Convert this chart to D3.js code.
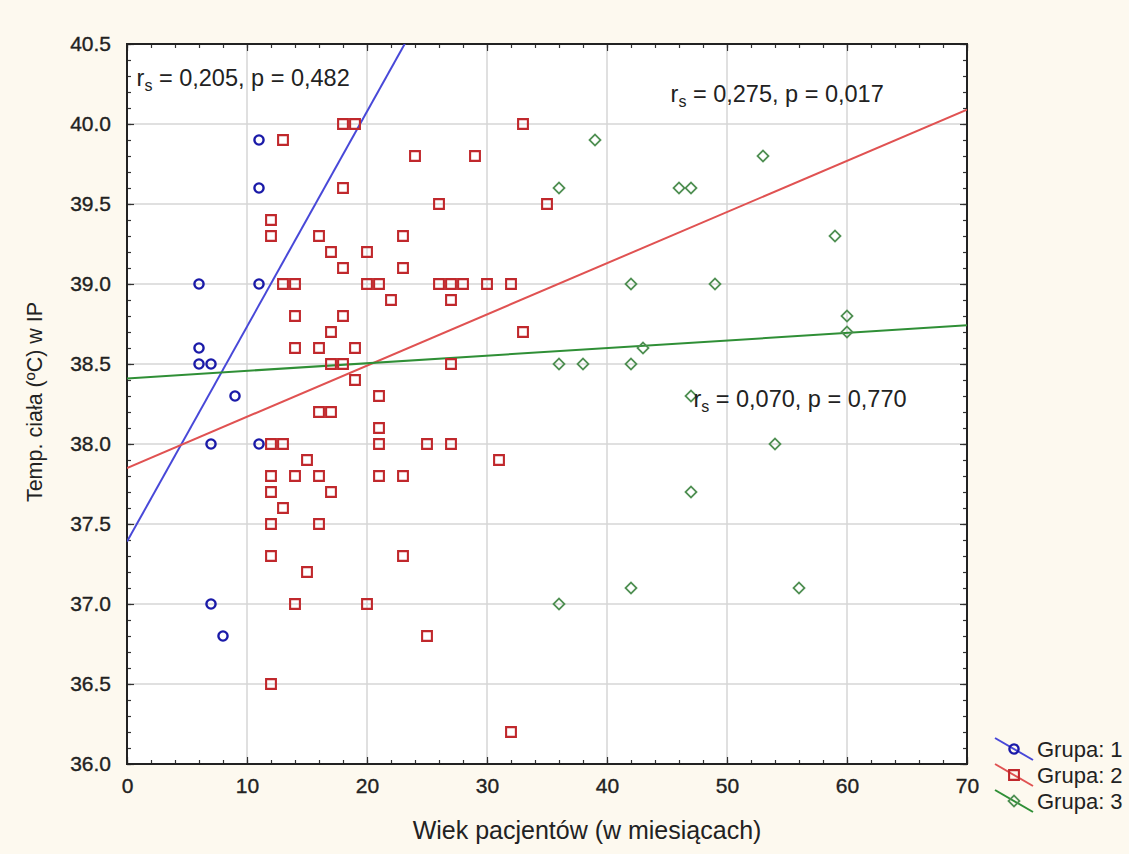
<!DOCTYPE html>
<html>
<head>
<meta charset="utf-8">
<script src="https://cdn.jsdelivr.net/npm/d3@7"></script>
<style>
  html, body { margin: 0; padding: 0; background: #fdf9ef; }
  svg { display: block; }
  text { font-family: "Liberation Sans", Arial, sans-serif; fill: #222; }
</style>
</head>
<body>
<svg id="chart" width="1129" height="854"></svg>
<script>
// Age (months) vs. body temperature for three patient groups
const group1Age  = [6, 6, 6, 7, 11, 11, 11, 9, 7, 11, 7, 8];
const group1Temp = [39.0, 38.6, 38.5, 38.5, 39.9, 39.6, 39.0, 38.3, 38.0, 38.0, 37.0, 36.8];

const group2Age  = [18, 19, 13, 24, 18, 12, 12, 16, 17, 20, 23, 18, 23, 13, 14, 20, 21, 22, 14, 18,
                    17, 14, 16, 19, 17, 18, 19, 21, 16, 17, 21, 12, 13, 21, 15, 12, 14, 16, 21, 23,
                    12, 17, 13, 12, 16, 12, 23, 15, 14, 20, 12,
                    33, 29, 26, 35, 26, 27, 28, 30, 32, 27, 33, 27, 25, 27, 31, 25, 32];
const group2Temp = [40.0, 40.0, 39.9, 39.8, 39.6, 39.4, 39.3, 39.3, 39.2, 39.2, 39.3, 39.1, 39.1, 39.0, 39.0, 39.0, 39.0, 38.9, 38.8, 38.8,
                    38.7, 38.6, 38.6, 38.6, 38.5, 38.5, 38.4, 38.3, 38.2, 38.2, 38.1, 38.0, 38.0, 38.0, 37.9, 37.8, 37.8, 37.8, 37.8, 37.8,
                    37.7, 37.7, 37.6, 37.5, 37.5, 37.3, 37.3, 37.2, 37.0, 37.0, 36.5,
                    40.0, 39.8, 39.5, 39.5, 39.0, 39.0, 39.0, 39.0, 39.0, 38.9, 38.7, 38.5, 38.0, 38.0, 37.9, 36.8, 36.2];

const group3Age  = [39, 36, 46, 47, 53, 59, 42, 49, 60, 60, 43, 36, 38, 42, 47, 54, 47, 56, 36, 42];
const group3Temp = [39.9, 39.6, 39.6, 39.6, 39.8, 39.3, 39.0, 39.0, 38.8, 38.7, 38.6, 38.5, 38.5, 38.5, 38.3, 38.0, 37.7, 37.1, 37.0, 37.1];

// Fitted lines: temperature = intercept + slope * age
const fitIntercept = [37.39, 37.85, 38.41];
const fitSlope     = [0.1344, 0.032, 0.00474];

// Spearman annotations
const corrR = ["0,205", "0,275", "0,070"];
const corrP = ["0,482", "0,017", "0,770"];
const corrAt = [[0.8, 40.24], [45.3, 40.14], [47.2, 38.23]];

const groupNames = ["Grupa: 1", "Grupa: 2", "Grupa: 3"];
const xTicks = [0, 10, 20, 30, 40, 50, 60, 70];
const yTicks = [36.0, 36.5, 37.0, 37.5, 38.0, 38.5, 39.0, 39.5, 40.0, 40.5];

const markerStroke = ["#1a1aa8", "#c0282c", "#4f8f52"];
const lineStroke   = ["#4848d8", "#e05252", "#2f8f36"];

const svg = d3.select("#chart");
const L = 127, R = 967, T = 44, B = 764;

const x = d3.scaleLinear().domain([0, 70]).range([L, R]);
const y = d3.scaleLinear().domain([36, 40.5]).range([B, T]);

// plot background
svg.append("rect").attr("x", L).attr("y", T).attr("width", R - L).attr("height", B - T).attr("fill", "#ffffff");

// grid
const grid = svg.append("g");
grid.selectAll(".gx").data(xTicks.slice(1, -1)).join("line")
  .attr("x1", d => x(d)).attr("x2", d => x(d)).attr("y1", T).attr("y2", B)
  .attr("stroke", "#d6d6d6").attr("stroke-width", 1.5);
grid.selectAll(".gy").data(yTicks.slice(1, -1)).join("line")
  .attr("y1", d => y(d)).attr("y2", d => y(d)).attr("x1", L).attr("x2", R)
  .attr("stroke", "#d6d6d6").attr("stroke-width", 1.5);

// axes with inward ticks on all four sides
const fmtY = d3.format(".1f");
function styleAxis(g) {
  g.select(".domain").remove();
  g.selectAll("line").attr("stroke", "#333").attr("stroke-width", 1.2);
}
function styleLabels(g) {
  g.select(".domain").remove();
  g.selectAll("text").attr("font-size", 21)
    .style("font-family", "'Liberation Sans', Arial, sans-serif")
    .attr("fill", "#222").attr("stroke", "#222").attr("stroke-width", 0.35);
}
const xMinor = d3.range(0, 70.001, 2);
const yMinor = d3.range(36, 40.501, 0.1);

svg.append("g").attr("transform", `translate(0,${B})`)
  .call(d3.axisTop(x).tickValues(xMinor).tickSize(4).tickFormat(""))
  .call(styleAxis);
svg.append("g").attr("transform", `translate(0,${B})`)
  .call(d3.axisBottom(x).tickValues(xTicks).tickSize(0).tickPadding(14).tickFormat(d3.format("d")))
  .call(styleLabels)
  .call(g => g.selectAll("text").attr("dy", "0.71em"));
svg.append("g").attr("transform", `translate(0,${B})`)
  .call(d3.axisTop(x).tickValues(xTicks).tickSize(7).tickFormat(""))
  .call(styleAxis);
svg.append("g").attr("transform", `translate(0,${T})`)
  .call(d3.axisBottom(x).tickValues(xMinor).tickSize(4).tickFormat(""))
  .call(styleAxis);
svg.append("g").attr("transform", `translate(0,${T})`)
  .call(d3.axisBottom(x).tickValues(xTicks).tickSize(7).tickFormat(""))
  .call(styleAxis);

svg.append("g").attr("transform", `translate(${L},0)`)
  .call(d3.axisRight(y).tickValues(yMinor).tickSize(4).tickFormat(""))
  .call(styleAxis);
svg.append("g").attr("transform", `translate(${L},0)`)
  .call(d3.axisRight(y).tickValues(yTicks).tickSize(7).tickFormat(""))
  .call(styleAxis);
svg.append("g").attr("transform", `translate(${L},0)`)
  .call(d3.axisLeft(y).tickValues(yTicks).tickSize(0).tickPadding(16).tickFormat(fmtY))
  .call(styleLabels);
svg.append("g").attr("transform", `translate(${R},0)`)
  .call(d3.axisLeft(y).tickValues(yMinor).tickSize(4).tickFormat(""))
  .call(styleAxis);
svg.append("g").attr("transform", `translate(${R},0)`)
  .call(d3.axisLeft(y).tickValues(yTicks).tickSize(7).tickFormat(""))
  .call(styleAxis);

// frame
svg.append("rect").attr("x", L).attr("y", T).attr("width", R - L).attr("height", B - T)
  .attr("fill", "none").attr("stroke", "#222").attr("stroke-width", 2);

// clip for fitted lines
svg.append("clipPath").attr("id", "plotClip")
  .append("rect").attr("x", L).attr("y", T).attr("width", R - L).attr("height", B - T);

const fitLine = d3.line().x(d => x(d[0])).y(d => y(d[1]));
const fits = svg.append("g").attr("clip-path", "url(#plotClip)");
fitIntercept.forEach((a, i) => {
  const b = fitSlope[i];
  fits.append("path")
    .attr("d", fitLine([[0, a], [70, a + b * 70]]))
    .attr("fill", "none").attr("stroke", lineStroke[i]).attr("stroke-width", 2);
});

// markers
const circleSym = d3.symbol().type(d3.symbolCircle).size(66);
const squareSym = d3.symbol().type(d3.symbolSquare).size(96);
const diamondSym = d3.symbol().type(d3.symbolSquare).size(60);

const groups = [
  { age: group1Age, temp: group1Temp, sym: circleSym, rot: 0, sw: 2.4 },
  { age: group2Age, temp: group2Temp, sym: squareSym, rot: 0, sw: 2.1 },
  { age: group3Age, temp: group3Temp, sym: diamondSym, rot: 45, sw: 1.8 }
];
const pts = svg.append("g");
groups.forEach((g, i) => {
  pts.append("g").selectAll("path").data(d3.range(g.age.length)).join("path")
    .attr("d", g.sym())
    .attr("transform", k => `translate(${x(g.age[k])},${y(g.temp[k])}) rotate(${g.rot})`)
    .attr("fill", "none").attr("stroke", markerStroke[i]).attr("stroke-width", g.sw);
});

// correlation labels
corrAt.forEach((p, i) => {
  const t = svg.append("text")
    .attr("x", x(p[0])).attr("y", y(p[1]))
    .attr("font-size", 23.5).attr("fill", "#222");
  t.append("tspan").text("r");
  t.append("tspan").text("s").attr("font-size", 16).attr("dy", 5);
  t.append("tspan").text(` = ${corrR[i]}, p = ${corrP[i]}`).attr("dy", -5);
});

// axis titles
svg.append("text").attr("x", 587).attr("y", 839).attr("text-anchor", "middle")
  .attr("font-size", 25).text("Wiek pacjentów (w miesiącach)");
svg.append("text").attr("transform", "translate(42,402) rotate(-90)").attr("text-anchor", "middle")
  .attr("font-size", 21.5).text("Temp. ciała (ºC) w IP");

// legend
const legend = svg.append("g");
groupNames.forEach((name, i) => {
  const cy = 749 + i * 26;
  const row = legend.append("g").attr("transform", `translate(1014,${cy})`);
  row.append("line").attr("x1", -19).attr("y1", -11).attr("x2", 19).attr("y2", 11)
    .attr("stroke", lineStroke[i]).attr("stroke-width", 2);
  row.append("path").attr("d", groups[i].sym()).attr("transform", `rotate(${groups[i].rot})`)
    .attr("fill", "none").attr("stroke", markerStroke[i]).attr("stroke-width", groups[i].sw);
  legend.append("text").attr("x", 1037).attr("y", cy + 8).attr("font-size", 22).text(name);
});
</script>
</body>
</html>
